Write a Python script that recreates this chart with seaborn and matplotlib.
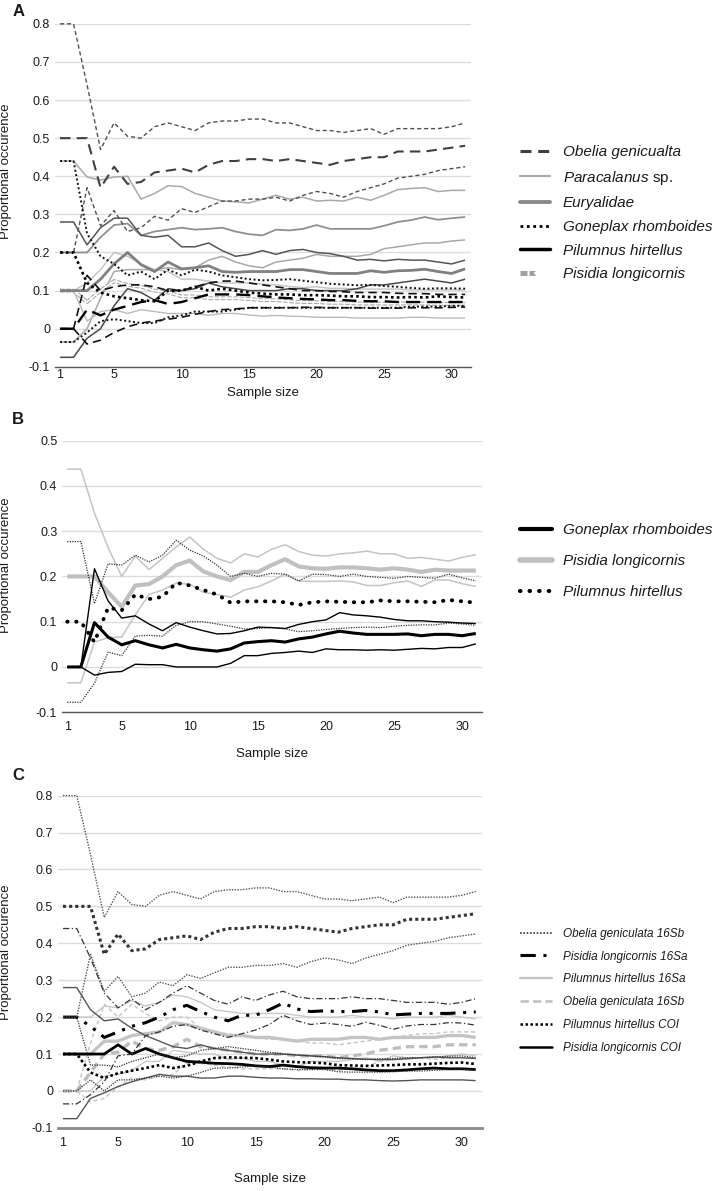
import matplotlib
matplotlib.use("Agg")
import matplotlib.pyplot as plt
from matplotlib.lines import Line2D
from matplotlib.legend_handler import HandlerTuple
import seaborn as sns

sample_size = list(range(1, 32))
x_ticks = [1, 5, 10, 15, 20, 25, 30]

y_ticks_ac = [-0.1, 0, 0.1, 0.2, 0.3, 0.4, 0.5, 0.6, 0.7, 0.8]
y_labels_ac = ["-0.1", "0", "0.1", "0.2", "0.3", "0.4", "0.5", "0.6", "0.7", "0.8"]
y_ticks_b = [-0.1, 0, 0.1, 0.2, 0.3, 0.4, 0.5]
y_labels_b = ["-0.1", "0", "0.1", "0.2", "0.3", "0.4", "0.5"]

# Obelia geniculata curves (same in panel A and C)
obelia_upper = [0.80, 0.80, 0.64, 0.47, 0.54, 0.505, 0.50, 0.53, 0.54, 0.53,
                0.52, 0.54, 0.545, 0.545, 0.55, 0.55, 0.54, 0.54, 0.53, 0.52,
                0.52, 0.515, 0.52, 0.525, 0.51, 0.525, 0.525, 0.525, 0.525, 0.53, 0.54]
obelia_mean = [0.50, 0.50, 0.50, 0.37, 0.425, 0.38, 0.385, 0.41, 0.415, 0.42,
               0.41, 0.43, 0.44, 0.44, 0.445, 0.445, 0.44, 0.445, 0.44, 0.435,
               0.43, 0.44, 0.445, 0.45, 0.45, 0.465, 0.465, 0.465, 0.47, 0.475, 0.48]
obelia_lower = [0.20, 0.20, 0.37, 0.27, 0.31, 0.255, 0.265, 0.295, 0.285, 0.315,
                0.305, 0.32, 0.335, 0.335, 0.34, 0.34, 0.345, 0.335, 0.35, 0.36,
                0.355, 0.345, 0.36, 0.37, 0.38, 0.395, 0.40, 0.405, 0.415, 0.42, 0.425]

# panel A
para_upper = [0.44, 0.44, 0.398, 0.39, 0.398, 0.40, 0.34, 0.355, 0.375, 0.373,
              0.355, 0.345, 0.335, 0.333, 0.33, 0.34, 0.35, 0.34, 0.345, 0.335,
              0.337, 0.335, 0.345, 0.337, 0.35, 0.365, 0.368, 0.37, 0.36, 0.363, 0.363]
para_mean = [0.20, 0.20, 0.20, 0.24, 0.272, 0.276, 0.245, 0.255, 0.26, 0.265,
             0.26, 0.262, 0.265, 0.255, 0.248, 0.245, 0.26, 0.258, 0.262, 0.272,
             0.262, 0.262, 0.262, 0.262, 0.27, 0.28, 0.285, 0.293, 0.286, 0.29, 0.293]
para_lower = [-0.035, -0.035, 0.0, 0.08, 0.15, 0.155, 0.155, 0.155, 0.16, 0.155,
              0.16, 0.18, 0.19, 0.175, 0.165, 0.16, 0.175, 0.18, 0.185, 0.195,
              0.19, 0.19, 0.19, 0.195, 0.21, 0.215, 0.22, 0.225, 0.225, 0.23, 0.233]

eury_upper = [0.28, 0.28, 0.22, 0.265, 0.29, 0.29, 0.245, 0.24, 0.245, 0.215,
              0.215, 0.225, 0.205, 0.19, 0.195, 0.205, 0.195, 0.205, 0.208, 0.20,
              0.197, 0.19, 0.18, 0.182, 0.178, 0.182, 0.18, 0.18, 0.175, 0.17, 0.18]
eury_mean = [0.10, 0.10, 0.10, 0.13, 0.17, 0.20, 0.168, 0.15, 0.175, 0.157,
             0.16, 0.165, 0.15, 0.148, 0.15, 0.15, 0.15, 0.155, 0.155, 0.15,
             0.145, 0.145, 0.145, 0.152, 0.148, 0.152, 0.153, 0.156, 0.15, 0.145, 0.157]
eury_lower = [-0.075, -0.075, -0.025, 0.0, 0.06, 0.105, 0.095, 0.075, 0.105, 0.10,
              0.105, 0.12, 0.11, 0.105, 0.10, 0.10, 0.10, 0.105, 0.105, 0.10,
              0.10, 0.10, 0.105, 0.115, 0.115, 0.12, 0.125, 0.13, 0.125, 0.12, 0.13]

gone_upper = [0.44, 0.44, 0.25, 0.19, 0.17, 0.14, 0.15, 0.13, 0.155, 0.14,
              0.155, 0.15, 0.14, 0.135, 0.13, 0.127, 0.128, 0.13, 0.126, 0.122,
              0.118, 0.116, 0.114, 0.115, 0.112, 0.11, 0.107, 0.105, 0.106, 0.106, 0.105]
gone_mean = [0.20, 0.20, 0.12, 0.095, 0.085, 0.08, 0.075, 0.072, 0.10, 0.10,
             0.11, 0.10, 0.105, 0.10, 0.095, 0.092, 0.09, 0.09, 0.088, 0.088,
             0.087, 0.085, 0.085, 0.083, 0.083, 0.082, 0.083, 0.082, 0.085, 0.083, 0.082]
gone_lower = [-0.035, -0.035, -0.01, 0.02, 0.025, 0.02, 0.015, 0.015, 0.03, 0.035,
              0.045, 0.045, 0.045, 0.05, 0.055, 0.055, 0.055, 0.055, 0.055, 0.055,
              0.055, 0.055, 0.055, 0.055, 0.055, 0.055, 0.058, 0.058, 0.058, 0.06, 0.06]

pil_upper = [0.0, 0.0, 0.14, 0.10, 0.11, 0.115, 0.115, 0.11, 0.10, 0.10,
             0.11, 0.12, 0.125, 0.125, 0.12, 0.115, 0.11, 0.105, 0.10, 0.10,
             0.098, 0.097, 0.095, 0.095, 0.095, 0.093, 0.092, 0.092, 0.09, 0.09, 0.09]
pil_mean = [0.0, 0.0, 0.05, 0.035, 0.05, 0.06, 0.07, 0.075, 0.065, 0.07,
            0.08, 0.09, 0.09, 0.09, 0.088, 0.085, 0.082, 0.08, 0.078, 0.077,
            0.075, 0.075, 0.073, 0.072, 0.072, 0.07, 0.07, 0.07, 0.07, 0.07, 0.07]
pil_lower = [0.0, 0.0, -0.04, -0.03, -0.01, 0.005, 0.015, 0.02, 0.025, 0.03,
             0.038, 0.045, 0.05, 0.052, 0.055, 0.055, 0.055, 0.055, 0.056, 0.056,
             0.055, 0.055, 0.055, 0.054, 0.054, 0.054, 0.055, 0.055, 0.055, 0.056, 0.057]

pis_upper = [0.10, 0.10, 0.12, 0.155, 0.20, 0.19, 0.17, 0.155, 0.15, 0.13,
             0.13, 0.125, 0.12, 0.12, 0.12, 0.117, 0.115, 0.111, 0.108, 0.11,
             0.106, 0.106, 0.104, 0.104, 0.104, 0.104, 0.102, 0.102, 0.102, 0.102, 0.102]
pis_mean = [0.10, 0.10, 0.07, 0.10, 0.125, 0.115, 0.11, 0.10, 0.095, 0.085,
            0.085, 0.08, 0.08, 0.08, 0.078, 0.075, 0.075, 0.072, 0.07, 0.07,
            0.068, 0.068, 0.066, 0.066, 0.066, 0.066, 0.066, 0.066, 0.065, 0.065, 0.065]
pis_lower = [0.10, 0.10, 0.02, 0.045, 0.05, 0.04, 0.05, 0.045, 0.04, 0.04,
             0.04, 0.035, 0.04, 0.04, 0.036, 0.033, 0.035, 0.033, 0.032, 0.03,
             0.03, 0.03, 0.028, 0.028, 0.028, 0.028, 0.03, 0.03, 0.028, 0.028, 0.028]

# panel B
b_gone_upper = [0.0, 0.0, 0.217, 0.146, 0.108, 0.113, 0.095, 0.08, 0.098, 0.088,
                0.08, 0.073, 0.074, 0.08, 0.088, 0.087, 0.085, 0.094, 0.10, 0.104,
                0.12, 0.115, 0.113, 0.11, 0.105, 0.102, 0.102, 0.10, 0.099, 0.097, 0.096]
b_gone_mean = [0.0, 0.0, 0.098, 0.066, 0.049, 0.058, 0.049, 0.042, 0.05, 0.042,
               0.038, 0.035, 0.04, 0.053, 0.056, 0.058, 0.055, 0.062, 0.066, 0.073,
               0.079, 0.075, 0.072, 0.072, 0.072, 0.073, 0.069, 0.072, 0.072, 0.069, 0.074]
b_gone_lower = [0.0, 0.0, -0.018, -0.012, -0.01, 0.006, 0.005, 0.005, 0.0, 0.0,
                0.0, 0.0, 0.008, 0.025, 0.025, 0.03, 0.032, 0.035, 0.032, 0.04,
                0.038, 0.038, 0.037, 0.038, 0.037, 0.039, 0.041, 0.04, 0.043, 0.043, 0.051]

b_pis_upper = [0.437, 0.437, 0.34, 0.264, 0.20, 0.245, 0.215, 0.24, 0.265, 0.287,
               0.26, 0.24, 0.23, 0.25, 0.243, 0.26, 0.27, 0.255, 0.247, 0.245,
               0.25, 0.252, 0.256, 0.25, 0.25, 0.24, 0.242, 0.238, 0.234, 0.242, 0.248]
b_pis_mean = [0.20, 0.20, 0.20, 0.165, 0.133, 0.18, 0.183, 0.20, 0.225, 0.235,
              0.211, 0.20, 0.192, 0.21, 0.21, 0.225, 0.238, 0.222, 0.218, 0.217,
              0.22, 0.22, 0.218, 0.215, 0.218, 0.215, 0.21, 0.215, 0.213, 0.213, 0.213]
b_pis_lower = [-0.035, -0.035, 0.055, 0.065, 0.066, 0.115, 0.16, 0.17, 0.185, 0.183,
               0.165, 0.16, 0.154, 0.17, 0.177, 0.19, 0.205, 0.19, 0.189, 0.189,
               0.19, 0.188, 0.18, 0.18, 0.186, 0.19, 0.178, 0.192, 0.192, 0.184, 0.178]

b_pil_upper = [0.277, 0.277, 0.14, 0.228, 0.225, 0.247, 0.232, 0.247, 0.28, 0.258,
               0.245, 0.225, 0.20, 0.207, 0.20, 0.207, 0.205, 0.19, 0.205, 0.204,
               0.20, 0.205, 0.20, 0.198, 0.196, 0.20, 0.198, 0.196, 0.205, 0.197, 0.19]
b_pil_mean = [0.10, 0.10, 0.055, 0.131, 0.125, 0.16, 0.15, 0.155, 0.186, 0.18,
              0.17, 0.16, 0.142, 0.145, 0.145, 0.145, 0.143, 0.137, 0.143, 0.145,
              0.144, 0.143, 0.143, 0.147, 0.145, 0.145, 0.144, 0.143, 0.148, 0.145, 0.142]
b_pil_lower = [-0.078, -0.078, -0.036, 0.033, 0.025, 0.068, 0.07, 0.068, 0.092, 0.10,
               0.10, 0.095, 0.09, 0.084, 0.085, 0.087, 0.084, 0.078, 0.08, 0.083,
               0.085, 0.087, 0.088, 0.087, 0.09, 0.092, 0.093, 0.093, 0.097, 0.095, 0.092]

# panel C
c_pis16_upper = [0.44, 0.44, 0.36, 0.265, 0.225, 0.25, 0.22, 0.24, 0.265, 0.285,
                 0.265, 0.245, 0.235, 0.255, 0.245, 0.26, 0.27, 0.255, 0.25, 0.25,
                 0.25, 0.255, 0.25, 0.25, 0.245, 0.24, 0.24, 0.24, 0.235, 0.24, 0.25]
c_pis16_mean = [0.20, 0.20, 0.175, 0.145, 0.16, 0.175, 0.185, 0.20, 0.22, 0.232,
                0.215, 0.20, 0.19, 0.205, 0.205, 0.22, 0.238, 0.222, 0.215, 0.217,
                0.215, 0.215, 0.218, 0.214, 0.206, 0.208, 0.21, 0.21, 0.21, 0.212, 0.214]
c_pis16_lower = [-0.035, -0.035, -0.01, 0.025, 0.095, 0.10, 0.15, 0.16, 0.175, 0.18,
                 0.165, 0.155, 0.145, 0.155, 0.165, 0.18, 0.205, 0.19, 0.18, 0.184,
                 0.18, 0.175, 0.186, 0.178, 0.167, 0.176, 0.18, 0.18, 0.185, 0.184, 0.178]

c_pil16_upper = [0.20, 0.20, 0.20, 0.23, 0.225, 0.245, 0.23, 0.24, 0.26, 0.255,
                 0.24, 0.22, 0.215, 0.21, 0.21, 0.21, 0.21, 0.205, 0.20, 0.20,
                 0.20, 0.205, 0.20, 0.20, 0.195, 0.20, 0.20, 0.20, 0.205, 0.20, 0.195]
c_pil16_mean = [0.10, 0.10, 0.10, 0.135, 0.135, 0.15, 0.155, 0.16, 0.185, 0.18,
                0.17, 0.16, 0.15, 0.15, 0.145, 0.145, 0.14, 0.135, 0.14, 0.14,
                0.14, 0.145, 0.145, 0.14, 0.145, 0.145, 0.145, 0.145, 0.15, 0.15, 0.145]
c_pil16_lower = [0.0, 0.0, 0.0, 0.04, 0.045, 0.055, 0.08, 0.08, 0.11, 0.105,
                 0.10, 0.10, 0.085, 0.09, 0.08, 0.08, 0.07, 0.065, 0.08, 0.08,
                 0.08, 0.085, 0.09, 0.08, 0.095, 0.09, 0.09, 0.09, 0.095, 0.10, 0.095]

c_obe16_upper = [0.0, 0.0, 0.13, 0.235, 0.20, 0.235, 0.21, 0.19, 0.20, 0.20,
                 0.17, 0.16, 0.155, 0.15, 0.145, 0.14, 0.14, 0.135, 0.13, 0.13,
                 0.125, 0.13, 0.135, 0.14, 0.145, 0.15, 0.155, 0.155, 0.16, 0.16, 0.16]
c_obe16_mean = [0.0, 0.0, 0.05, 0.10, 0.105, 0.135, 0.115, 0.11, 0.12, 0.14,
                0.12, 0.115, 0.11, 0.105, 0.10, 0.10, 0.10, 0.095, 0.095, 0.095,
                0.09, 0.095, 0.10, 0.11, 0.115, 0.12, 0.12, 0.12, 0.125, 0.125, 0.125]
c_obe16_lower = [0.0, 0.0, -0.03, -0.02, 0.01, 0.035, 0.03, 0.04, 0.045, 0.075,
                 0.075, 0.07, 0.065, 0.06, 0.06, 0.06, 0.06, 0.055, 0.058, 0.06,
                 0.055, 0.06, 0.065, 0.08, 0.085, 0.09, 0.09, 0.085, 0.09, 0.09, 0.09]

c_pilcoi_upper = [0.20, 0.20, 0.07, 0.07, 0.065, 0.08, 0.09, 0.10, 0.09, 0.095,
                  0.11, 0.115, 0.12, 0.115, 0.11, 0.105, 0.10, 0.098, 0.095, 0.092,
                  0.088, 0.087, 0.085, 0.087, 0.088, 0.09, 0.09, 0.092, 0.094, 0.095, 0.09]
c_pilcoi_mean = [0.10, 0.10, 0.05, 0.035, 0.048, 0.055, 0.062, 0.07, 0.062, 0.068,
                 0.08, 0.089, 0.091, 0.09, 0.089, 0.085, 0.08, 0.078, 0.077, 0.075,
                 0.07, 0.069, 0.068, 0.069, 0.07, 0.072, 0.072, 0.074, 0.076, 0.077, 0.073]
c_pilcoi_lower = [0.0, 0.0, 0.03, 0.0, 0.03, 0.03, 0.035, 0.04, 0.035, 0.04,
                  0.05, 0.062, 0.062, 0.065, 0.068, 0.065, 0.06, 0.058, 0.058, 0.058,
                  0.052, 0.051, 0.051, 0.051, 0.052, 0.054, 0.054, 0.056, 0.058, 0.059, 0.056]

c_piscoi_upper = [0.28, 0.28, 0.22, 0.19, 0.195, 0.17, 0.15, 0.135, 0.12, 0.115,
                  0.125, 0.115, 0.11, 0.105, 0.10, 0.10, 0.10, 0.097, 0.095, 0.093,
                  0.09, 0.088, 0.086, 0.085, 0.085, 0.087, 0.09, 0.092, 0.09, 0.09, 0.088]
c_piscoi_mean = [0.10, 0.10, 0.10, 0.10, 0.125, 0.10, 0.115, 0.10, 0.09, 0.08,
                 0.078, 0.075, 0.074, 0.072, 0.068, 0.066, 0.07, 0.066, 0.063, 0.062,
                 0.062, 0.06, 0.057, 0.055, 0.055, 0.057, 0.06, 0.062, 0.06, 0.06, 0.058]
c_piscoi_lower = [-0.075, -0.075, -0.02, -0.005, 0.012, 0.025, 0.035, 0.045, 0.04, 0.04,
                  0.035, 0.035, 0.04, 0.04, 0.037, 0.035, 0.035, 0.033, 0.033, 0.032,
                  0.032, 0.03, 0.03, 0.028, 0.027, 0.028, 0.03, 0.03, 0.03, 0.03, 0.028]

legend_a = ["Obelia genicualta", r"$\mathit{Paracalanus}$ sp.", "Euryalidae",
            "Goneplax rhomboides", "Pilumnus hirtellus", "Pisidia longicornis"]
legend_b = ["Goneplax rhomboides", "Pisidia longicornis", "Pilumnus hirtellus"]
legend_c = ["Obelia geniculata 16Sb", "Pisidia longicornis 16Sa", "Pilumnus hirtellus 16Sa",
            "Obelia geniculata 16Sb", "Pilumnus hirtellus COI", "Pisidia longicornis COI"]

sns.set_style("white")
plt.rcParams["font.family"] = ["Liberation Sans", "DejaVu Sans"]
plt.rcParams["mathtext.fontset"] = "custom"
plt.rcParams["mathtext.it"] = "Liberation Sans:italic"
plt.rcParams["mathtext.rm"] = "Liberation Sans"

TXT = "#1a1a1a"


def trace(ax, values, color, lw, ls="-", cap="butt"):
    sns.lineplot(x=sample_size, y=values, ax=ax, color=color, linewidth=lw,
                 linestyle=ls, dash_capstyle=cap, solid_capstyle="butt",
                 errorbar=None, legend=False)


def frame(ax, ylim, yticks, ylabels, xpad, xlab_y, ylab_y, spine_col, spine_lw):
    ax.set_xlim(0.63, 31.45)
    ax.set_ylim(*ylim)
    ax.set_xticks(x_ticks)
    ax.set_xticklabels([str(t) for t in x_ticks])
    ax.set_yticks(yticks)
    ax.set_yticklabels(ylabels)
    ax.tick_params(axis="both", length=0, labelsize=9, labelcolor=TXT)
    ax.tick_params(axis="x", pad=xpad)
    ax.tick_params(axis="y", pad=3.5)
    ax.yaxis.grid(True, color="#dcdcdc", linewidth=1.0)
    ax.xaxis.grid(False)
    ax.set_axisbelow(True)
    for s in ["top", "left", "right"]:
        ax.spines[s].set_visible(False)
    ax.spines["bottom"].set_color(spine_col)
    ax.spines["bottom"].set_linewidth(spine_lw)
    ax.set_xlabel("Sample size", fontsize=9.5, color=TXT)
    ax.set_ylabel("Proportional occurence", fontsize=9.5, color=TXT)
    ax.xaxis.set_label_coords(0.5, xlab_y)
    ax.yaxis.set_label_coords(ylab_y[0], ylab_y[1])
    for ln in ax.lines:
        ln.set_clip_on(False)


fig = plt.figure(figsize=(7.15, 11.91), dpi=100)
ax_a = fig.add_axes([0.077, 0.692, 0.582, 0.288])
ax_b = fig.add_axes([0.087, 0.402, 0.587, 0.228])
ax_c = fig.add_axes([0.081, 0.053, 0.593, 0.279])

# ---------------- panel A ----------------
para_c = "#a8a8a8"
trace(ax_a, para_upper, para_c, 1.1)
trace(ax_a, para_lower, para_c, 1.1)
trace(ax_a, para_mean, "#8f8f8f", 1.3)
trace(ax_a, pis_upper, "#c2c2c2", 1.0)
trace(ax_a, pis_lower, "#bababa", 1.0)
trace(ax_a, pis_mean, "#a8a8a8", 2.8, (0, (1.2, 0.4)))
trace(ax_a, pis_mean, "white", 1.2)
trace(ax_a, eury_upper, "#555555", 1.1)
trace(ax_a, eury_lower, "#4a4a4a", 1.1)
trace(ax_a, eury_mean, "#808080", 2.0)
trace(ax_a, obelia_upper, "#505050", 1.0, (0, (3, 2)))
trace(ax_a, obelia_lower, "#505050", 1.0, (0, (3, 2)))
trace(ax_a, obelia_mean, "#404040", 1.5, (0, (5, 3)))
trace(ax_a, gone_upper, "#111111", 1.4, (0, (1, 1.3)))
trace(ax_a, gone_lower, "#111111", 1.4, (0, (1, 1.3)))
trace(ax_a, gone_mean, "#000000", 1.9, (0, (1, 1.2)))
trace(ax_a, pil_upper, "#111111", 1.2, (0, (5, 3)))
trace(ax_a, pil_lower, "#111111", 1.2, (0, (5, 3)))
trace(ax_a, pil_mean, "#000000", 1.7, (0, (6, 3)))
frame(ax_a, (-0.1, 0.8), y_ticks_ac, y_labels_ac, 1.5, -0.06, (-0.103, 0.57), "#595959", 1.0)

h_a = [Line2D([], [], color="#404040", lw=2.2, ls=(0, (3.6, 2.2))),
       Line2D([], [], color="#a8a8a8", lw=1.6),
       Line2D([], [], color="#8a8a8a", lw=2.8),
       Line2D([], [], color="#000000", lw=2.0, ls=(0, (1, 1.3))),
       Line2D([], [], color="#000000", lw=2.5),
       (Line2D([], [], color="#a0a0a0", lw=3.6, ls=(0, (1.4, 0.4))),
        Line2D([], [], color="white", lw=1.6))]
leg_a = ax_a.legend(h_a, legend_a, loc="center left", bbox_to_anchor=(0.727, 0.821),
                    bbox_transform=fig.transFigure, frameon=False, fontsize=11,
                    handlelength=2.0, handletextpad=0.8, labelspacing=0.63,
                    borderpad=0, borderaxespad=0,
                    handler_map={tuple: HandlerTuple(ndivide=None)})
for i, t in enumerate(leg_a.get_texts()):
    t.set_color(TXT)
    if i != 1:
        t.set_fontstyle("italic")

# ---------------- panel B ----------------
trace(ax_b, b_pis_upper, "#c4c4c4", 1.1)
trace(ax_b, b_pis_lower, "#c4c4c4", 1.1)
trace(ax_b, b_pis_mean, "#c0c0c0", 3.0)
trace(ax_b, b_pil_upper, "#333333", 0.9, (0, (1, 1)))
trace(ax_b, b_pil_lower, "#333333", 0.9, (0, (1, 1)))
trace(ax_b, b_pil_mean, "#000000", 2.8, (0, (0.1, 2.2)), cap="round")
trace(ax_b, b_gone_upper, "#000000", 1.0)
trace(ax_b, b_gone_lower, "#000000", 1.0)
trace(ax_b, b_gone_mean, "#000000", 2.2)
frame(ax_b, (-0.1, 0.5), y_ticks_b, y_labels_b, 6.5, -0.13, (-0.119, 0.54), "#595959", 1.0)

h_b = [Line2D([], [], color="#000000", lw=3.0),
       Line2D([], [], color="#c0c0c0", lw=4.0),
       Line2D([], [], color="#000000", lw=3.0, ls=(0, (0.1, 2.2)), dash_capstyle="round")]
leg_b = ax_b.legend(h_b, legend_b, loc="center left", bbox_to_anchor=(0.727, 0.529),
                    bbox_transform=fig.transFigure, frameon=False, fontsize=11,
                    handlelength=2.1, handletextpad=0.75, labelspacing=1.11,
                    borderpad=0, borderaxespad=0)
for t in leg_b.get_texts():
    t.set_color(TXT)
    t.set_fontstyle("italic")

# ---------------- panel C ----------------
trace(ax_c, c_pil16_upper, "#c8c8c8", 1.0)
trace(ax_c, c_pil16_lower, "#c8c8c8", 1.0)
trace(ax_c, c_pil16_mean, "#c4c4c4", 2.4)
trace(ax_c, c_obe16_upper, "#c4c4c4", 1.0, (0, (3, 2)))
trace(ax_c, c_obe16_lower, "#c4c4c4", 1.0, (0, (3, 2)))
trace(ax_c, c_obe16_mean, "#bdbdbd", 2.4, (0, (2.5, 1.5)))
trace(ax_c, c_piscoi_upper, "#555555", 1.0)
trace(ax_c, c_piscoi_lower, "#555555", 1.0)
trace(ax_c, c_piscoi_mean, "#000000", 2.0)
trace(ax_c, c_pilcoi_upper, "#333333", 0.9, (0, (1, 1)))
trace(ax_c, c_pilcoi_lower, "#333333", 0.9, (0, (1, 1)))
trace(ax_c, c_pilcoi_mean, "#000000", 1.9, (0, (1, 1)))
trace(ax_c, c_pis16_upper, "#333333", 0.9, (0, (5, 2, 1, 2)))
trace(ax_c, c_pis16_lower, "#333333", 0.9, (0, (5, 2, 1, 2)))
trace(ax_c, c_pis16_mean, "#000000", 2.2, (0, (5, 2.5, 1, 2.5, 1, 2.5)))
trace(ax_c, obelia_upper, "#555555", 1.0, (0, (1, 1)))
trace(ax_c, obelia_lower, "#555555", 1.0, (0, (1, 1)))
trace(ax_c, obelia_mean, "#333333", 2.2, (0, (1, 1)))
frame(ax_c, (-0.1, 0.8), y_ticks_ac, y_labels_ac, 6.5, -0.136, (-0.108, 0.53), "#8a8a8a", 2.0)

h_c = [Line2D([], [], color="#333333", lw=1.2, ls=(0, (1, 1))),
       Line2D([], [], color="#000000", lw=2.2, ls=(0, (5, 2.5, 1, 2.5, 1, 2.5))),
       Line2D([], [], color="#c4c4c4", lw=1.6),
       Line2D([], [], color="#c4c4c4", lw=2.0, ls=(0, (3, 1.5))),
       Line2D([], [], color="#000000", lw=1.8, ls=(0, (1, 1))),
       Line2D([], [], color="#000000", lw=1.8)]
leg_c = ax_c.legend(h_c, legend_c, loc="center left", bbox_to_anchor=(0.727, 0.168),
                    bbox_transform=fig.transFigure, frameon=False, fontsize=8.5,
                    handlelength=2.7, handletextpad=1.0, labelspacing=0.92,
                    borderpad=0, borderaxespad=0)
for t in leg_c.get_texts():
    t.set_color(TXT)
    t.set_fontstyle("italic")

# panel letters
for letter, y in [("A", 0.990), ("B", 0.648), ("C", 0.349)]:
    fig.text(0.017, y, letter, fontsize=12, fontweight="bold", color=TXT, va="center")

fig.savefig("out.png", dpi=100)
